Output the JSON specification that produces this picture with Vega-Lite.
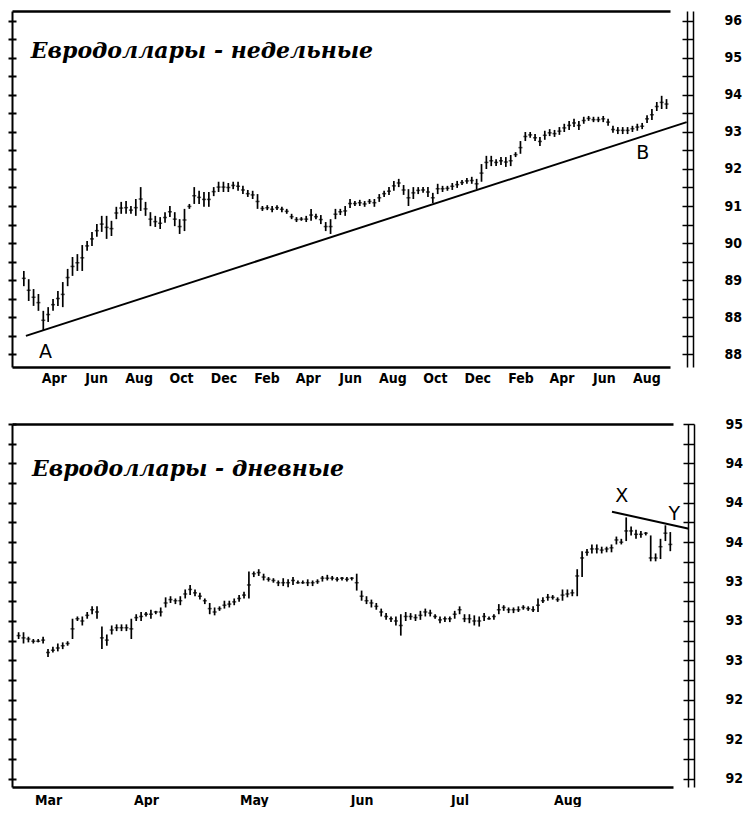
{
  "$schema": "https://vega.github.io/schema/vega-lite/v6.json",
  "background": "white",
  "padding": {"left": 7, "top": 11, "right": 0, "bottom": 0},
  "bounds": "flush",
  "spacing": 57,
  "config": {
    "view": {"stroke": null},
    "axis": {"grid": false, "title": null, "domainColor": "black", "tickColor": "black", "labelColor": "black", "labelFont": "DejaVu Sans Condensed", "labelFontWeight": "bold"}
  },
  "datasets": {
    "weekly": [
      {"week":"1989-02-17","high":90.02,"low":89.65,"close":89.84},
      {"week":"1989-02-24","high":89.82,"low":89.29,"close":89.55},
      {"week":"1989-03-03","high":89.58,"low":89.17,"close":89.38},
      {"week":"1989-03-10","high":89.46,"low":89.05,"close":89.25},
      {"week":"1989-03-17","high":89.05,"low":88.58,"close":88.82},
      {"week":"1989-03-24","high":89.14,"low":88.78,"close":88.96},
      {"week":"1989-03-31","high":89.34,"low":89.05,"close":89.20},
      {"week":"1989-04-07","high":89.53,"low":89.17,"close":89.35},
      {"week":"1989-04-14","high":89.75,"low":89.14,"close":89.45},
      {"week":"1989-04-21","high":90.07,"low":89.65,"close":89.86},
      {"week":"1989-04-28","high":90.36,"low":89.90,"close":90.13},
      {"week":"1989-05-05","high":90.43,"low":90.02,"close":90.22},
      {"week":"1989-05-12","high":90.65,"low":90.02,"close":90.34},
      {"week":"1989-05-19","high":90.75,"low":90.51,"close":90.63},
      {"week":"1989-05-26","high":90.97,"low":90.63,"close":90.80},
      {"week":"1989-06-02","high":91.16,"low":90.85,"close":91.00},
      {"week":"1989-06-09","high":91.36,"low":90.97,"close":91.16},
      {"week":"1989-06-16","high":91.36,"low":90.80,"close":91.08},
      {"week":"1989-06-23","high":91.24,"low":90.87,"close":91.05},
      {"week":"1989-06-30","high":91.58,"low":91.28,"close":91.43},
      {"week":"1989-07-07","high":91.70,"low":91.41,"close":91.55},
      {"week":"1989-07-14","high":91.72,"low":91.41,"close":91.56},
      {"week":"1989-07-21","high":91.60,"low":91.41,"close":91.50},
      {"week":"1989-07-28","high":91.77,"low":91.36,"close":91.56},
      {"week":"1989-08-04","high":92.06,"low":91.48,"close":91.77},
      {"week":"1989-08-11","high":91.70,"low":91.36,"close":91.53},
      {"week":"1989-08-18","high":91.45,"low":91.11,"close":91.28},
      {"week":"1989-08-25","high":91.36,"low":91.09,"close":91.22},
      {"week":"1989-09-01","high":91.33,"low":91.04,"close":91.18},
      {"week":"1989-09-08","high":91.45,"low":91.19,"close":91.32},
      {"week":"1989-09-15","high":91.60,"low":91.33,"close":91.46},
      {"week":"1989-09-22","high":91.45,"low":91.11,"close":91.28},
      {"week":"1989-09-29","high":91.28,"low":90.92,"close":91.10},
      {"week":"1989-10-06","high":91.53,"low":90.99,"close":91.26},
      {"week":"1989-10-13","high":91.65,"low":91.53,"close":91.59},
      {"week":"1989-10-20","high":92.06,"low":91.65,"close":91.85},
      {"week":"1989-10-27","high":91.97,"low":91.65,"close":91.81},
      {"week":"1989-11-03","high":91.94,"low":91.58,"close":91.76},
      {"week":"1989-11-10","high":91.94,"low":91.58,"close":91.76},
      {"week":"1989-11-17","high":92.06,"low":91.84,"close":91.95},
      {"week":"1989-11-24","high":92.19,"low":91.94,"close":92.06},
      {"week":"1989-12-01","high":92.19,"low":91.94,"close":92.06},
      {"week":"1989-12-08","high":92.16,"low":91.94,"close":92.05},
      {"week":"1989-12-15","high":92.19,"low":92.01,"close":92.10},
      {"week":"1989-12-22","high":92.19,"low":91.97,"close":92.08},
      {"week":"1989-12-29","high":92.09,"low":91.89,"close":91.99},
      {"week":"1990-01-05","high":91.99,"low":91.82,"close":91.90},
      {"week":"1990-01-12","high":91.97,"low":91.77,"close":91.87},
      {"week":"1990-01-19","high":91.89,"low":91.53,"close":91.71},
      {"week":"1990-01-26","high":91.60,"low":91.48,"close":91.54},
      {"week":"1990-02-02","high":91.62,"low":91.50,"close":91.56},
      {"week":"1990-02-09","high":91.60,"low":91.45,"close":91.52},
      {"week":"1990-02-16","high":91.62,"low":91.50,"close":91.56},
      {"week":"1990-02-23","high":91.58,"low":91.45,"close":91.52},
      {"week":"1990-03-02","high":91.53,"low":91.41,"close":91.47},
      {"week":"1990-03-09","high":91.41,"low":91.28,"close":91.34},
      {"week":"1990-03-16","high":91.33,"low":91.21,"close":91.27},
      {"week":"1990-03-23","high":91.33,"low":91.24,"close":91.28},
      {"week":"1990-03-30","high":91.36,"low":91.21,"close":91.28},
      {"week":"1990-04-06","high":91.53,"low":91.24,"close":91.38},
      {"week":"1990-04-13","high":91.41,"low":91.28,"close":91.34},
      {"week":"1990-04-20","high":91.38,"low":91.16,"close":91.27},
      {"week":"1990-04-27","high":91.21,"low":90.99,"close":91.10},
      {"week":"1990-05-04","high":91.28,"low":90.92,"close":91.10},
      {"week":"1990-05-11","high":91.53,"low":91.28,"close":91.40},
      {"week":"1990-05-18","high":91.53,"low":91.38,"close":91.46},
      {"week":"1990-05-25","high":91.60,"low":91.36,"close":91.48},
      {"week":"1990-06-01","high":91.77,"low":91.55,"close":91.66},
      {"week":"1990-06-08","high":91.72,"low":91.60,"close":91.66},
      {"week":"1990-06-15","high":91.75,"low":91.60,"close":91.68},
      {"week":"1990-06-22","high":91.72,"low":91.58,"close":91.65},
      {"week":"1990-06-29","high":91.77,"low":91.65,"close":91.71},
      {"week":"1990-07-06","high":91.77,"low":91.58,"close":91.68},
      {"week":"1990-07-13","high":91.89,"low":91.70,"close":91.80},
      {"week":"1990-07-20","high":91.97,"low":91.82,"close":91.90},
      {"week":"1990-07-27","high":92.06,"low":91.87,"close":91.96},
      {"week":"1990-08-03","high":92.21,"low":91.97,"close":92.09},
      {"week":"1990-08-10","high":92.26,"low":92.06,"close":92.16},
      {"week":"1990-08-17","high":92.11,"low":91.87,"close":91.99},
      {"week":"1990-08-24","high":92.01,"low":91.60,"close":91.80},
      {"week":"1990-08-31","high":92.06,"low":91.77,"close":91.92},
      {"week":"1990-09-07","high":92.06,"low":91.89,"close":91.98},
      {"week":"1990-09-14","high":92.06,"low":91.92,"close":91.99},
      {"week":"1990-09-21","high":92.06,"low":91.82,"close":91.94},
      {"week":"1990-09-28","high":91.92,"low":91.67,"close":91.80},
      {"week":"1990-10-05","high":92.14,"low":91.89,"close":92.02},
      {"week":"1990-10-12","high":92.09,"low":91.94,"close":92.02},
      {"week":"1990-10-19","high":92.09,"low":91.97,"close":92.03},
      {"week":"1990-10-26","high":92.16,"low":91.99,"close":92.08},
      {"week":"1990-11-02","high":92.21,"low":92.04,"close":92.12},
      {"week":"1990-11-09","high":92.23,"low":92.11,"close":92.17},
      {"week":"1990-11-16","high":92.28,"low":92.14,"close":92.21},
      {"week":"1990-11-23","high":92.31,"low":92.14,"close":92.22},
      {"week":"1990-11-30","high":92.26,"low":92.01,"close":92.14},
      {"week":"1990-12-07","high":92.62,"low":92.19,"close":92.40},
      {"week":"1990-12-14","high":92.82,"low":92.50,"close":92.66},
      {"week":"1990-12-21","high":92.82,"low":92.57,"close":92.70},
      {"week":"1990-12-28","high":92.74,"low":92.57,"close":92.66},
      {"week":"1991-01-04","high":92.79,"low":92.60,"close":92.70},
      {"week":"1991-01-11","high":92.79,"low":92.55,"close":92.67},
      {"week":"1991-01-18","high":92.84,"low":92.57,"close":92.70},
      {"week":"1991-01-25","high":92.91,"low":92.79,"close":92.85},
      {"week":"1991-02-01","high":93.18,"low":92.87,"close":93.02},
      {"week":"1991-02-08","high":93.40,"low":93.18,"close":93.29},
      {"week":"1991-02-15","high":93.40,"low":93.26,"close":93.33},
      {"week":"1991-02-22","high":93.35,"low":93.18,"close":93.26},
      {"week":"1991-03-01","high":93.28,"low":93.06,"close":93.17},
      {"week":"1991-03-08","high":93.43,"low":93.21,"close":93.32},
      {"week":"1991-03-15","high":93.47,"low":93.30,"close":93.38},
      {"week":"1991-03-22","high":93.45,"low":93.28,"close":93.36},
      {"week":"1991-03-29","high":93.52,"low":93.33,"close":93.42},
      {"week":"1991-04-05","high":93.60,"low":93.40,"close":93.50},
      {"week":"1991-04-12","high":93.67,"low":93.45,"close":93.56},
      {"week":"1991-04-19","high":93.72,"low":93.52,"close":93.62},
      {"week":"1991-04-26","high":93.67,"low":93.45,"close":93.56},
      {"week":"1991-05-03","high":93.77,"low":93.60,"close":93.68},
      {"week":"1991-05-10","high":93.79,"low":93.67,"close":93.73},
      {"week":"1991-05-17","high":93.77,"low":93.64,"close":93.70},
      {"week":"1991-05-24","high":93.77,"low":93.64,"close":93.70},
      {"week":"1991-05-31","high":93.79,"low":93.64,"close":93.72},
      {"week":"1991-06-07","high":93.72,"low":93.55,"close":93.64},
      {"week":"1991-06-14","high":93.55,"low":93.38,"close":93.46},
      {"week":"1991-06-21","high":93.52,"low":93.35,"close":93.44},
      {"week":"1991-06-28","high":93.52,"low":93.35,"close":93.44},
      {"week":"1991-07-05","high":93.52,"low":93.35,"close":93.44},
      {"week":"1991-07-12","high":93.55,"low":93.40,"close":93.48},
      {"week":"1991-07-19","high":93.60,"low":93.43,"close":93.52},
      {"week":"1991-07-26","high":93.62,"low":93.47,"close":93.54},
      {"week":"1991-08-02","high":93.81,"low":93.62,"close":93.72},
      {"week":"1991-08-09","high":93.96,"low":93.69,"close":93.82},
      {"week":"1991-08-16","high":94.13,"low":93.91,"close":94.02},
      {"week":"1991-08-23","high":94.28,"low":93.96,"close":94.12},
      {"week":"1991-08-30","high":94.20,"low":93.96,"close":94.08}
    ],
    "daily": [
      {"day":-6,"high":93.30,"low":93.24,"close":93.27},
      {"day":-5,"high":93.30,"low":93.20,"close":93.25},
      {"day":-4,"high":93.26,"low":93.21,"close":93.24},
      {"day":-3,"high":93.24,"low":93.20,"close":93.22},
      {"day":-2,"high":93.24,"low":93.21,"close":93.22},
      {"day":-1,"high":93.26,"low":93.20,"close":93.23},
      {"day":0,"high":93.15,"low":93.08,"close":93.12},
      {"day":1,"high":93.17,"low":93.12,"close":93.14},
      {"day":2,"high":93.20,"low":93.13,"close":93.16},
      {"day":3,"high":93.21,"low":93.15,"close":93.18},
      {"day":4,"high":93.22,"low":93.18,"close":93.20},
      {"day":5,"high":93.42,"low":93.24,"close":93.33},
      {"day":6,"high":93.44,"low":93.40,"close":93.42},
      {"day":7,"high":93.44,"low":93.36,"close":93.40},
      {"day":8,"high":93.48,"low":93.42,"close":93.45},
      {"day":9,"high":93.53,"low":93.46,"close":93.50},
      {"day":10,"high":93.53,"low":93.42,"close":93.48},
      {"day":11,"high":93.35,"low":93.15,"close":93.25},
      {"day":12,"high":93.28,"low":93.18,"close":93.23},
      {"day":13,"high":93.36,"low":93.28,"close":93.32},
      {"day":14,"high":93.37,"low":93.31,"close":93.34},
      {"day":15,"high":93.37,"low":93.31,"close":93.34},
      {"day":16,"high":93.37,"low":93.31,"close":93.34},
      {"day":17,"high":93.42,"low":93.24,"close":93.33},
      {"day":18,"high":93.46,"low":93.40,"close":93.43},
      {"day":19,"high":93.48,"low":93.40,"close":93.44},
      {"day":20,"high":93.48,"low":93.44,"close":93.46},
      {"day":21,"high":93.50,"low":93.42,"close":93.46},
      {"day":22,"high":93.49,"low":93.46,"close":93.48},
      {"day":23,"high":93.52,"low":93.44,"close":93.48},
      {"day":24,"high":93.61,"low":93.52,"close":93.56},
      {"day":25,"high":93.62,"low":93.56,"close":93.59},
      {"day":26,"high":93.60,"low":93.55,"close":93.58},
      {"day":27,"high":93.62,"low":93.54,"close":93.58},
      {"day":28,"high":93.68,"low":93.60,"close":93.64},
      {"day":29,"high":93.72,"low":93.63,"close":93.68},
      {"day":30,"high":93.68,"low":93.62,"close":93.65},
      {"day":31,"high":93.65,"low":93.59,"close":93.62},
      {"day":32,"high":93.60,"low":93.55,"close":93.58},
      {"day":33,"high":93.56,"low":93.46,"close":93.51},
      {"day":34,"high":93.52,"low":93.45,"close":93.48},
      {"day":35,"high":93.53,"low":93.49,"close":93.51},
      {"day":36,"high":93.58,"low":93.51,"close":93.54},
      {"day":37,"high":93.58,"low":93.52,"close":93.55},
      {"day":38,"high":93.60,"low":93.54,"close":93.57},
      {"day":39,"high":93.63,"low":93.57,"close":93.60},
      {"day":40,"high":93.66,"low":93.60,"close":93.63},
      {"day":41,"high":93.84,"low":93.60,"close":93.72},
      {"day":42,"high":93.84,"low":93.79,"close":93.82},
      {"day":43,"high":93.86,"low":93.80,"close":93.83},
      {"day":44,"high":93.82,"low":93.76,"close":93.79},
      {"day":45,"high":93.79,"low":93.75,"close":93.77},
      {"day":46,"high":93.78,"low":93.74,"close":93.76},
      {"day":47,"high":93.76,"low":93.71,"close":93.74},
      {"day":48,"high":93.78,"low":93.71,"close":93.74},
      {"day":49,"high":93.77,"low":93.70,"close":93.74},
      {"day":50,"high":93.79,"low":93.72,"close":93.76},
      {"day":51,"high":93.76,"low":93.73,"close":93.74},
      {"day":52,"high":93.76,"low":93.73,"close":93.74},
      {"day":53,"high":93.77,"low":93.71,"close":93.74},
      {"day":54,"high":93.76,"low":93.71,"close":93.74},
      {"day":55,"high":93.77,"low":93.73,"close":93.75},
      {"day":56,"high":93.80,"low":93.75,"close":93.78},
      {"day":57,"high":93.81,"low":93.76,"close":93.78},
      {"day":58,"high":93.80,"low":93.76,"close":93.78},
      {"day":59,"high":93.79,"low":93.75,"close":93.77},
      {"day":60,"high":93.79,"low":93.76,"close":93.78},
      {"day":61,"high":93.79,"low":93.75,"close":93.77},
      {"day":62,"high":93.79,"low":93.76,"close":93.78},
      {"day":63,"high":93.82,"low":93.67,"close":93.74},
      {"day":64,"high":93.67,"low":93.58,"close":93.62},
      {"day":65,"high":93.62,"low":93.55,"close":93.58},
      {"day":66,"high":93.59,"low":93.52,"close":93.56},
      {"day":67,"high":93.56,"low":93.50,"close":93.53},
      {"day":68,"high":93.51,"low":93.44,"close":93.48},
      {"day":69,"high":93.47,"low":93.41,"close":93.44},
      {"day":70,"high":93.44,"low":93.39,"close":93.42},
      {"day":71,"high":93.44,"low":93.36,"close":93.40},
      {"day":72,"high":93.46,"low":93.27,"close":93.36},
      {"day":73,"high":93.48,"low":93.40,"close":93.44},
      {"day":74,"high":93.47,"low":93.41,"close":93.44},
      {"day":75,"high":93.46,"low":93.40,"close":93.43},
      {"day":76,"high":93.49,"low":93.41,"close":93.45},
      {"day":77,"high":93.51,"low":93.44,"close":93.48},
      {"day":78,"high":93.50,"low":93.44,"close":93.47},
      {"day":79,"high":93.46,"low":93.42,"close":93.44},
      {"day":80,"high":93.44,"low":93.38,"close":93.41},
      {"day":81,"high":93.44,"low":93.39,"close":93.42},
      {"day":82,"high":93.44,"low":93.39,"close":93.42},
      {"day":83,"high":93.49,"low":93.42,"close":93.46},
      {"day":84,"high":93.53,"low":93.46,"close":93.50},
      {"day":85,"high":93.46,"low":93.39,"close":93.42},
      {"day":86,"high":93.46,"low":93.38,"close":93.42},
      {"day":87,"high":93.45,"low":93.36,"close":93.40},
      {"day":88,"high":93.44,"low":93.35,"close":93.40},
      {"day":89,"high":93.47,"low":93.40,"close":93.44},
      {"day":90,"high":93.44,"low":93.41,"close":93.42},
      {"day":91,"high":93.46,"low":93.41,"close":93.44},
      {"day":92,"high":93.55,"low":93.46,"close":93.50},
      {"day":93,"high":93.54,"low":93.49,"close":93.52},
      {"day":94,"high":93.52,"low":93.47,"close":93.50},
      {"day":95,"high":93.52,"low":93.47,"close":93.50},
      {"day":96,"high":93.53,"low":93.48,"close":93.50},
      {"day":97,"high":93.54,"low":93.50,"close":93.52},
      {"day":98,"high":93.53,"low":93.49,"close":93.51},
      {"day":99,"high":93.53,"low":93.48,"close":93.50},
      {"day":100,"high":93.60,"low":93.48,"close":93.54},
      {"day":101,"high":93.61,"low":93.56,"close":93.58},
      {"day":102,"high":93.64,"low":93.58,"close":93.61},
      {"day":103,"high":93.63,"low":93.59,"close":93.61},
      {"day":104,"high":93.61,"low":93.57,"close":93.59},
      {"day":105,"high":93.68,"low":93.58,"close":93.63},
      {"day":106,"high":93.68,"low":93.61,"close":93.64},
      {"day":107,"high":93.68,"low":93.62,"close":93.65},
      {"day":108,"high":93.86,"low":93.62,"close":93.80},
      {"day":109,"high":94.02,"low":93.79,"close":93.96},
      {"day":110,"high":94.04,"low":93.98,"close":94.01},
      {"day":111,"high":94.08,"low":94.00,"close":94.04},
      {"day":112,"high":94.08,"low":94.00,"close":94.04},
      {"day":113,"high":94.06,"low":94.00,"close":94.03},
      {"day":114,"high":94.06,"low":94.01,"close":94.04},
      {"day":115,"high":94.08,"low":94.01,"close":94.05},
      {"day":116,"high":94.15,"low":94.08,"close":94.12},
      {"day":117,"high":94.13,"low":94.08,"close":94.10},
      {"day":118,"high":94.32,"low":94.11,"close":94.20},
      {"day":119,"high":94.24,"low":94.16,"close":94.20},
      {"day":120,"high":94.21,"low":94.13,"close":94.17},
      {"day":121,"high":94.20,"low":94.14,"close":94.17},
      {"day":122,"high":94.19,"low":94.16,"close":94.18},
      {"day":123,"high":94.16,"low":93.93,"close":93.96},
      {"day":124,"high":94.00,"low":93.93,"close":93.96},
      {"day":125,"high":94.13,"low":93.95,"close":94.06},
      {"day":126,"high":94.25,"low":94.11,"close":94.18},
      {"day":127,"high":94.19,"low":94.02,"close":94.08}
    ],
    "wtrend": [
      {"week":"1989-02-20","price":88.44},
      {"week":"1991-09-28","price":93.64}
    ],
    "wtitle": [
      {"week":"1989-02-27","price":95.37,"label":"Евродоллары - недельные"}
    ],
    "wmarks": [
      {"week":"1989-03-20","price":88.06,"label":"A"},
      {"week":"1991-07-27","price":92.90,"label":"B"}
    ],
    "dtrend": [
      {"day":115.1,"price":94.37},
      {"day":130.8,"price":94.22}
    ],
    "dtitle": [
      {"day":-3.27,"price":94.75,"label":"Евродоллары - дневные"}
    ],
    "dmarks": [
      {"day":117.1,"price":94.51,"label":"X"},
      {"day":127.8,"price":94.35,"label":"Y"}
    ]
  },
  "vconcat": [
    {
      "width": 658,
      "height": 356,
      "resolve": {"axis": {"x": "independent", "y": "independent"}},
      "layer": [
        {
          "data": {"name": "weekly"},
          "mark": {"type": "rule", "color": "black", "strokeWidth": 1.7},
          "encoding": {
            "x": {"field": "week", "type": "temporal",
              "scale": {"type": "utc", "domain": [{"year": 1989, "month": 1, "date": 31, "utc": true}, {"year": 1991, "month": 9, "date": 4, "utc": true}]},
              "axis": {"orient": "bottom", "format": "%b", "ticks": false, "domainWidth": 2.5, "labelFontSize": 14, "labelPadding": 4, "labelFlush": false, "labelOverlap": false,
                "values": [
                  {"year": 1989, "month": 4, "date": 1, "utc": true}, {"year": 1989, "month": 6, "date": 1, "utc": true}, {"year": 1989, "month": 8, "date": 1, "utc": true},
                  {"year": 1989, "month": 10, "date": 1, "utc": true}, {"year": 1989, "month": 12, "date": 1, "utc": true}, {"year": 1990, "month": 2, "date": 1, "utc": true},
                  {"year": 1990, "month": 4, "date": 1, "utc": true}, {"year": 1990, "month": 6, "date": 1, "utc": true}, {"year": 1990, "month": 8, "date": 1, "utc": true},
                  {"year": 1990, "month": 10, "date": 1, "utc": true}, {"year": 1990, "month": 12, "date": 1, "utc": true}, {"year": 1991, "month": 2, "date": 1, "utc": true},
                  {"year": 1991, "month": 4, "date": 1, "utc": true}, {"year": 1991, "month": 6, "date": 1, "utc": true}, {"year": 1991, "month": 8, "date": 1, "utc": true}
                ]}},
            "y": {"field": "low", "type": "quantitative",
              "scale": {"domain": [87.684, 96.343], "nice": false, "zero": false},
              "axis": {"orient": "left", "labels": false, "tickSize": 4, "tickWidth": 2, "domainWidth": 2,
                "values": [88, 88.45, 88.9, 89.35, 89.8, 90.25, 90.7, 91.15, 91.6, 92.05, 92.5, 92.95, 93.4, 93.85, 94.3, 94.75, 95.2, 95.65, 96.1]}},
            "y2": {"field": "high"}
          }
        },
        {
          "data": {"name": "weekly"},
          "mark": {"type": "tick", "orient": "horizontal", "color": "black", "size": 4, "thickness": 1.5},
          "encoding": {
            "x": {"field": "week", "type": "temporal",
              "axis": {"orient": "top", "labels": false, "ticks": false, "domainWidth": 2.5}},
            "y": {"field": "close", "type": "quantitative",
              "axis": {"orient": "right", "offset": 23, "tickSize": -11, "tickWidth": 1.5, "domainWidth": 1.5, "labelFontSize": 14, "labelPadding": 42,
                "values": [88, 88.45, 88.9, 89.35, 89.8, 90.25, 90.7, 91.15, 91.6, 92.05, 92.5, 92.95, 93.4, 93.85, 94.3, 94.75, 95.2, 95.65, 96.1],
                "labelExpr": "indexof([88, 88.9, 89.8, 90.7, 91.6, 92.5, 93.4, 94.3, 95.2, 96.1], datum.value) >= 0 ? floor(datum.value) : ''"}}
          }
        },
        {
          "data": {"name": "wtrend"},
          "mark": {"type": "line", "color": "black", "strokeWidth": 2, "clip": false},
          "encoding": {
            "x": {"field": "week", "type": "temporal", "axis": null},
            "y": {"field": "price", "type": "quantitative",
              "axis": {"orient": "right", "offset": 17, "labels": false, "ticks": false, "domainWidth": 1.5}}
          }
        },
        {
          "data": {"name": "wtitle"},
          "mark": {"type": "text", "align": "left", "baseline": "middle", "font": "DejaVu Serif", "fontStyle": "italic", "fontWeight": "bold", "fontSize": 22, "color": "black"},
          "encoding": {
            "x": {"field": "week", "type": "temporal", "axis": null},
            "y": {"field": "price", "type": "quantitative",
              "axis": {"orient": "left", "labels": false, "domain": false, "tickSize": -4, "tickWidth": 2,
                "values": [88, 88.45, 88.9, 89.35, 89.8, 90.25, 90.7, 91.15, 91.6, 92.05, 92.5, 92.95, 93.4, 93.85, 94.3, 94.75, 95.2, 95.65, 96.1]}},
            "text": {"field": "label"}
          }
        },
        {
          "data": {"name": "wmarks"},
          "mark": {"type": "text", "align": "center", "baseline": "middle", "font": "DejaVu Sans", "fontSize": 19, "color": "black", "clip": false},
          "encoding": {
            "x": {"field": "week", "type": "temporal", "axis": null},
            "y": {"field": "price", "type": "quantitative", "axis": null},
            "text": {"field": "label"}
          }
        }
      ]
    },
    {
      "width": 661,
      "height": 363,
      "resolve": {"axis": {"x": "independent", "y": "independent"}},
      "layer": [
        {
          "data": {"name": "daily"},
          "mark": {"type": "rule", "color": "black", "strokeWidth": 1.7},
          "encoding": {
            "x": {"field": "day", "type": "quantitative",
              "scale": {"domain": [-7.35, 127.55], "nice": false, "zero": false},
              "axis": {"orient": "bottom", "ticks": false, "domainWidth": 2.5, "labelFontSize": 14, "labelPadding": 6, "labelFlush": false,
                "values": [0, 20, 42, 64, 84, 106],
                "labelExpr": "['Mar', 'Apr', 'May', 'Jun', 'Jul', 'Aug'][indexof([0, 20, 42, 64, 84, 106], datum.value)]"}},
            "y": {"field": "low", "type": "quantitative",
              "scale": {"domain": [91.925, 95.15], "nice": false, "zero": false},
              "axis": {"orient": "left", "labels": false, "tickSize": 4, "tickWidth": 2, "domainWidth": 2,
                "values": [95.15, 94.975, 94.8, 94.625, 94.45, 94.275, 94.1, 93.925, 93.75, 93.575, 93.4, 93.225, 93.05, 92.875, 92.7, 92.525, 92.35, 92.175, 92.0]}},
            "y2": {"field": "high"}
          }
        },
        {
          "data": {"name": "daily"},
          "mark": {"type": "tick", "orient": "horizontal", "color": "black", "size": 4, "thickness": 1.5},
          "encoding": {
            "x": {"field": "day", "type": "quantitative",
              "axis": {"orient": "top", "labels": false, "ticks": false, "domainWidth": 2.5}},
            "y": {"field": "close", "type": "quantitative",
              "axis": {"orient": "right", "offset": 21, "tickSize": -11, "tickWidth": 1.5, "domainWidth": 1.5, "labelFontSize": 14, "labelPadding": 42,
                "values": [95.15, 94.975, 94.8, 94.625, 94.45, 94.275, 94.1, 93.925, 93.75, 93.575, 93.4, 93.225, 93.05, 92.875, 92.7, 92.525, 92.35, 92.175, 92.0],
                "labelExpr": "indexof([95.15, 94.8, 94.45, 94.1, 93.75, 93.4, 93.05, 92.7, 92.35, 92.0], datum.value) >= 0 ? floor(datum.value) : ''"}}
          }
        },
        {
          "data": {"name": "dtrend"},
          "mark": {"type": "line", "color": "black", "strokeWidth": 2, "clip": false},
          "encoding": {
            "x": {"field": "day", "type": "quantitative", "axis": null},
            "y": {"field": "price", "type": "quantitative",
              "axis": {"orient": "right", "offset": 15, "labels": false, "ticks": false, "domainWidth": 1.5}}
          }
        },
        {
          "data": {"name": "dtitle"},
          "mark": {"type": "text", "align": "left", "baseline": "middle", "font": "DejaVu Serif", "fontStyle": "italic", "fontWeight": "bold", "fontSize": 22, "color": "black"},
          "encoding": {
            "x": {"field": "day", "type": "quantitative", "axis": null},
            "y": {"field": "price", "type": "quantitative",
              "axis": {"orient": "left", "labels": false, "domain": false, "tickSize": -4, "tickWidth": 2,
                "values": [95.15, 94.975, 94.8, 94.625, 94.45, 94.275, 94.1, 93.925, 93.75, 93.575, 93.4, 93.225, 93.05, 92.875, 92.7, 92.525, 92.35, 92.175, 92.0]}},
            "text": {"field": "label"}
          }
        },
        {
          "data": {"name": "dmarks"},
          "mark": {"type": "text", "align": "center", "baseline": "middle", "font": "DejaVu Sans", "fontSize": 19, "color": "black", "clip": false},
          "encoding": {
            "x": {"field": "day", "type": "quantitative", "axis": null},
            "y": {"field": "price", "type": "quantitative", "axis": null},
            "text": {"field": "label"}
          }
        }
      ]
    }
  ]
}
